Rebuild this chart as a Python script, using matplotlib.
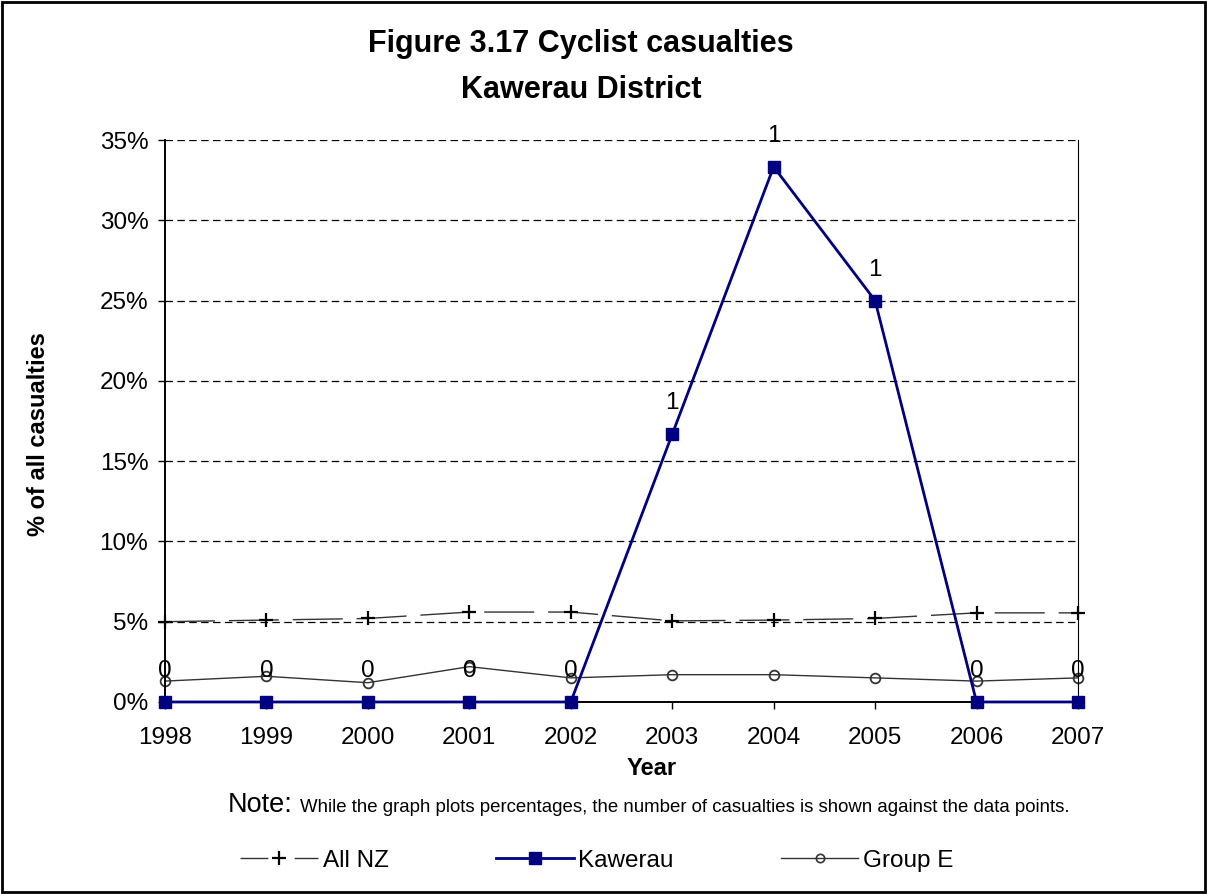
import matplotlib
matplotlib.use("Agg")
import matplotlib.pyplot as plt
from matplotlib.ticker import PercentFormatter
from matplotlib.lines import Line2D
from matplotlib.patches import Rectangle

plt.rcParams["font.family"] = ["Liberation Sans", "DejaVu Sans"]

years = [1998, 1999, 2000, 2001, 2002, 2003, 2004, 2005, 2006, 2007]
all_nz = [5.0, 5.1, 5.2, 5.6, 5.6, 5.05, 5.1, 5.2, 5.55, 5.55]
kawerau = [0, 0, 0, 0, 0, 16.67, 33.33, 25.0, 0, 0]
group_e = [1.3, 1.6, 1.2, 2.2, 1.5, 1.7, 1.7, 1.5, 1.3, 1.5]
kawerau_counts = [0, 0, 0, 0, 0, 1, 1, 1, 0, 0]

NAVY = "#000080"
GREY = "#333333"

fig = plt.figure(figsize=(12.07, 8.94), dpi=100)
ax = fig.add_axes([0.1367, 0.2148, 0.7564, 0.6286])

ax.yaxis.grid(True, color="black", linestyle=(0, (6, 3.5)), linewidth=0.9)
ax.set_axisbelow(True)

ax.plot(years, all_nz, color=GREY, linewidth=1.0, dashes=(36, 10),
        marker="+", markersize=10, markeredgewidth=1.6, markeredgecolor="black",
        label="All NZ", clip_on=False)
ax.plot(years, group_e, color=GREY, linewidth=1.0,
        marker="o", markersize=7, markerfacecolor="none", markeredgewidth=1.3,
        markeredgecolor=GREY, label="Group E", clip_on=False)
ax.plot(years, kawerau, color=NAVY, linewidth=2.0,
        marker="s", markersize=8, markerfacecolor=NAVY, markeredgecolor=NAVY,
        label="Kawerau", clip_on=False, zorder=5)

for x, y, c in zip(years, kawerau, kawerau_counts):
    ax.annotate(f"{c}", xy=(x, y), xytext=(0, 18), textcoords="offset points",
                ha="center", va="baseline", fontsize=17.5)

ax.set_xlim(1998, 2007)
ax.set_ylim(0, 35)
ax.set_yticks(range(0, 36, 5))
ax.set_xticks(years)
ax.yaxis.set_major_formatter(PercentFormatter(decimals=0))
ax.tick_params(axis="both", labelsize=17.5, direction="out", length=5, width=1)
ax.tick_params(axis="x", pad=13)
ax.tick_params(axis="y", pad=7)

ax.spines["top"].set_visible(False)
ax.spines["right"].set_linewidth(0.8)
ax.spines["left"].set_linewidth(1.4)
ax.spines["bottom"].set_linewidth(1.4)

fig.text(0.540, 0.1404, "Year", ha="center", va="center", fontsize=17, fontweight="bold")
fig.text(0.032, 0.514, "% of all casualties", rotation=90, ha="center", va="center",
         fontsize=17, fontweight="bold")

fig.text(0.4814, 0.9418, "Figure 3.17 Cyclist casualties", ha="center", va="baseline",
         fontsize=22, fontweight="bold")
fig.text(0.4814, 0.8904, "Kawerau District", ha="center", va="baseline",
         fontsize=22, fontweight="bold")

fig.text(0.189, 0.0917, "Note:", ha="left", va="baseline", fontsize=19.5)
fig.text(0.2485, 0.0917, "While the graph plots percentages, the number of casualties is shown against the data points.",
         ha="left", va="baseline", fontsize=13.4)

handles = [
    Line2D([], [], color=GREY, linewidth=1.0, dashes=(20, 19), marker="+",
           markersize=10, markeredgewidth=1.6, markeredgecolor="black"),
    Line2D([], [], color=NAVY, linewidth=2.0, marker="s", markersize=8,
           markerfacecolor=NAVY, markeredgecolor=NAVY),
    Line2D([], [], color=GREY, linewidth=1.0, marker="o", markersize=6,
           markerfacecolor="none", markeredgewidth=1.2, markeredgecolor=GREY),
]
fig.legend(handles, ["All NZ", "Kawerau", "Group E"], loc="center", ncol=3,
           bbox_to_anchor=(0.4946, 0.037), frameon=False, fontsize=17.5,
           handlelength=3.2, columnspacing=4.4, handletextpad=0.2, borderpad=0)

fig.patches.append(Rectangle((0.002, 0.002), 0.996, 0.996, transform=fig.transFigure,
                             fill=False, edgecolor="black", linewidth=2))

fig.savefig("out.png", dpi=100)
